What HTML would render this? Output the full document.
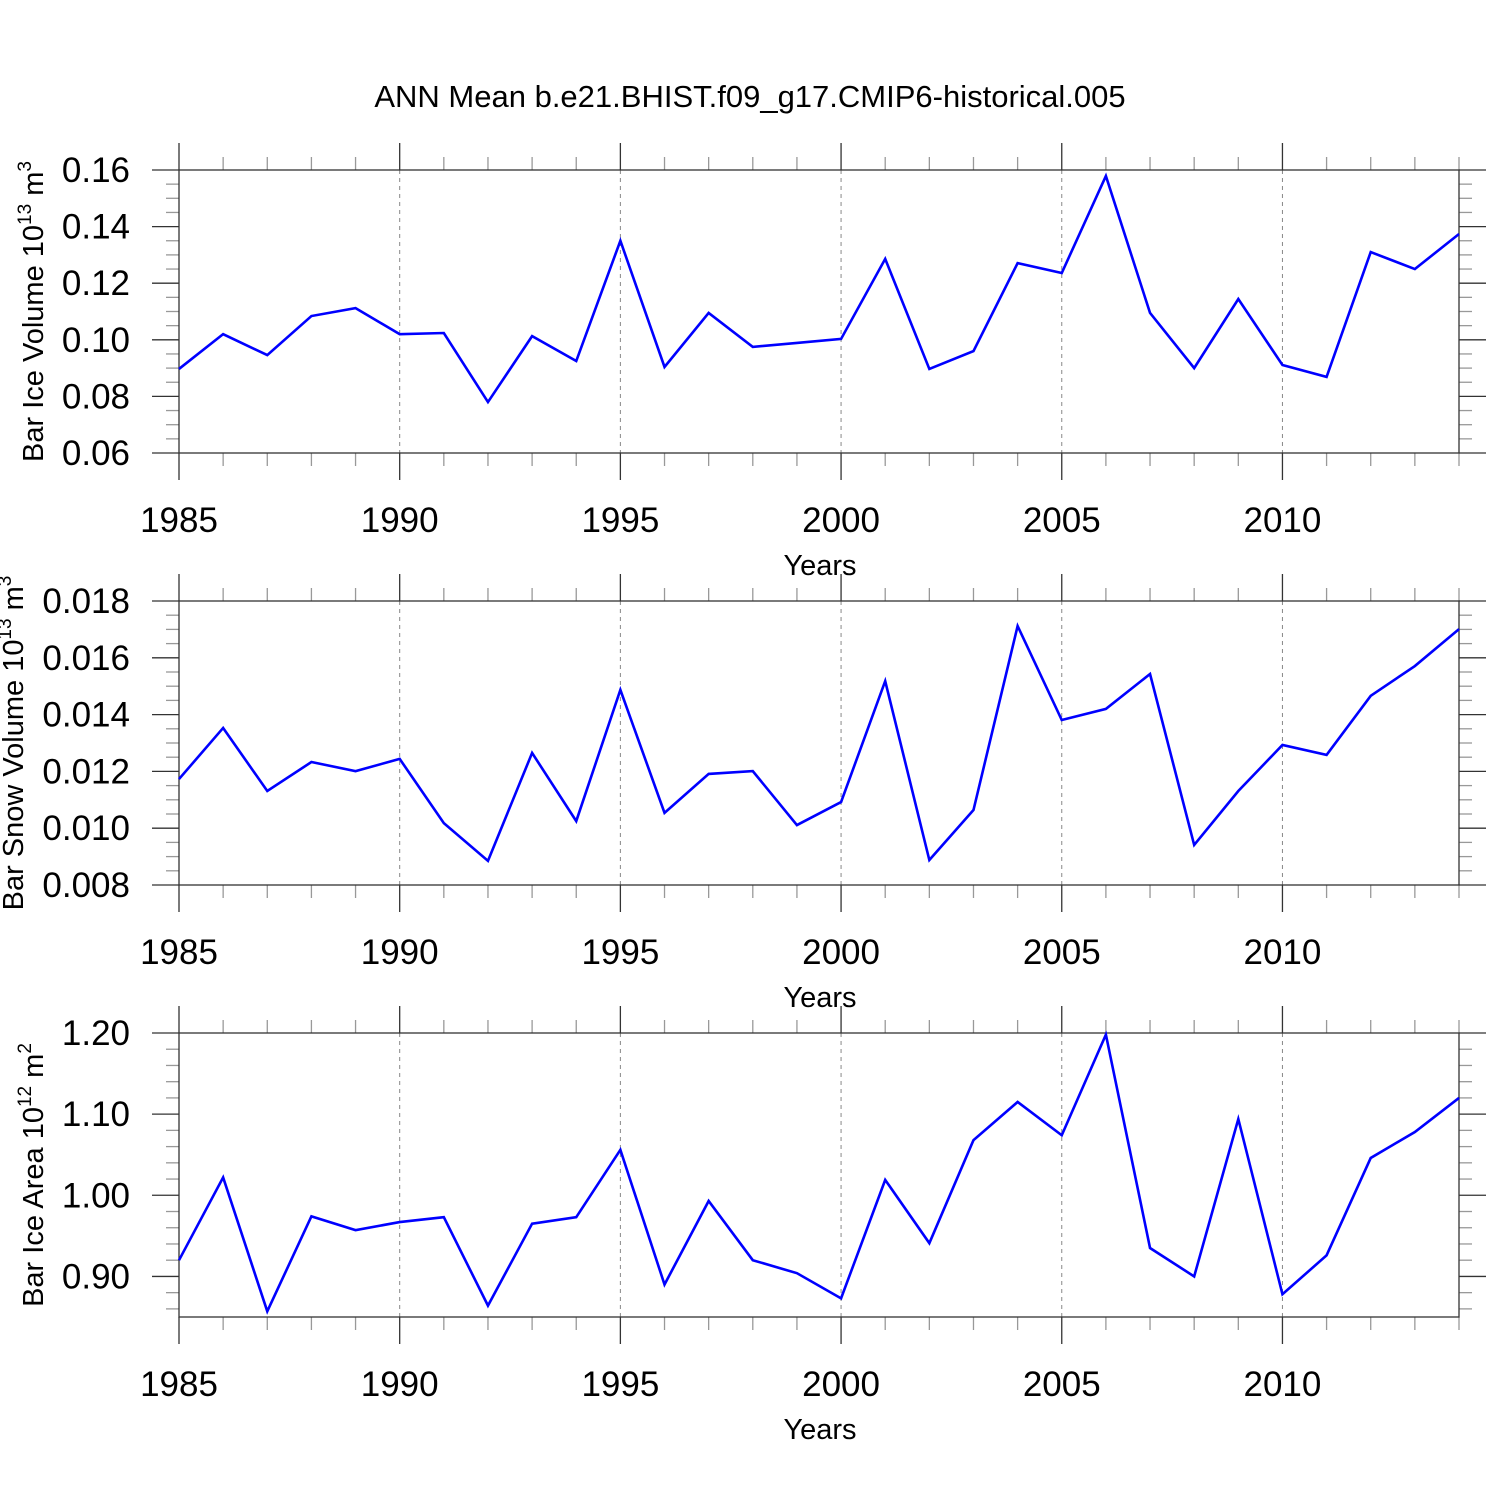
<!DOCTYPE html>
<html><head><meta charset="utf-8"><style>
html,body{margin:0;padding:0;background:#fff}
svg{display:block;font-family:"Liberation Sans",sans-serif}
</style></head><body>
<svg id="chart" width="1500" height="1500" viewBox="0 0 1500 1500" xmlns="http://www.w3.org/2000/svg">
<text x="750" y="107" font-size="31" text-anchor="middle">ANN Mean b.e21.BHIST.f09_g17.CMIP6-historical.005</text>
</svg>
<script>
const years = [1985,1986,1987,1988,1989,1990,1991,1992,1993,1994,1995,1996,1997,1998,1999,2000,2001,2002,2003,2004,2005,2006,2007,2008,2009,2010,2011,2012,2013,2014];
const iceVolume = [0.0897,0.102,0.0946,0.1084,0.1112,0.102,0.1024,0.078,0.1013,0.0925,0.135,0.0904,0.1095,0.0975,0.0989,0.1003,0.1286,0.0897,0.096,0.1271,0.1236,0.1579,0.1095,0.09,0.1144,0.0911,0.0869,0.131,0.125,0.1374];
const snowVolume = [0.01173,0.01353,0.01131,0.01233,0.01201,0.01244,0.01018,0.00885,0.01265,0.01025,0.01487,0.01054,0.01191,0.01201,0.01011,0.01092,0.01518,0.00888,0.01064,0.01712,0.01381,0.0142,0.01543,0.00941,0.01131,0.01293,0.01258,0.01466,0.01571,0.01701];
const iceArea = [0.920,1.022,0.857,0.974,0.957,0.967,0.973,0.864,0.965,0.973,1.056,0.890,0.993,0.920,0.904,0.873,1.019,0.941,1.068,1.115,1.074,1.198,0.935,0.900,1.094,0.878,0.926,1.046,1.078,1.120];
const xTickLabels = ["1985","1990","1995","2000","2005","2010"];
const ticks1 = ["0.06","0.08","0.10","0.12","0.14","0.16"];
const ticks2 = ["0.008","0.010","0.012","0.014","0.016","0.018"];
const ticks3 = ["0.90","1.00","1.10","1.20"];

const NS="http://www.w3.org/2000/svg";
const svg=document.getElementById('chart');
const X0=179,X1=1459;
const xs=y=>X0+(y-1985)/(2014-1985)*(X1-X0);
function mk(tag,attrs,parent){const e=document.createElementNS(NS,tag);for(const k in attrs)e.setAttribute(k,attrs[k]);(parent||svg).appendChild(e);return e;}

const panels=[
 {name:'ice-volume',top:170,bot:453,ymin:0.06,ymax:0.16,minor:0.005,ticks:ticks1,data:iceVolume,title:'Bar Ice Volume 10',sup:'13',unit:' m',usup:'3',tx:43},
 {name:'snow-volume',top:601,bot:885,ymin:0.008,ymax:0.018,minor:0.0005,ticks:ticks2,data:snowVolume,title:'Bar Snow Volume 10',sup:'13',unit:' m',usup:'3',tx:23},
 {name:'ice-area',top:1033,bot:1317,ymin:0.85,ymax:1.20,minor:0.02,ticks:ticks3,data:iceArea,title:'Bar Ice Area 10',sup:'12',unit:' m',usup:'2',tx:43}
];

panels.forEach(p=>{
 const g=mk('g',{});
 
 
 const ys=v=>p.bot-(v-p.ymin)/(p.ymax-p.ymin)*(p.bot-p.top);
 for(let y=1990;y<=2010;y+=5){
  const l=mk('line',{x1:xs(y),x2:xs(y),y1:p.top,y2:p.bot,stroke:'#888','stroke-width':1,'stroke-dasharray':'4,4'},g);
  
  
 }
 for(let y=1985;y<=2014;y++){
  const maj=(y%5===0);const L=maj?27:13;const c=maj?'#333':'#999';
  mk('line',{x1:xs(y),x2:xs(y),y1:p.top-L,y2:p.top,stroke:c,'stroke-width':1.3},g);
  mk('line',{x1:xs(y),x2:xs(y),y1:p.bot,y2:p.bot+L,stroke:c,'stroke-width':1.3},g);
 }
 const k0=Math.ceil(p.ymin/p.minor-1e-6),k1=Math.floor(p.ymax/p.minor+1e-6);
 for(let k=k0;k<=k1;k++){
  const v=k*p.minor;const yy=ys(v);
  const isMaj=p.ticks.some(t=>Math.abs(parseFloat(t)-v)<p.minor/10);
  const L=isMaj?27:13;const c=isMaj?'#333':'#999';
  mk('line',{x1:X0-L,x2:X0,y1:yy,y2:yy,stroke:c,'stroke-width':1.3},g);
  mk('line',{x1:X1,x2:X1+L,y1:yy,y2:yy,stroke:c,'stroke-width':1.3},g);
 }
 const fr=mk('rect',{x:X0,y:p.top,width:X1-X0,height:p.bot-p.top,fill:'none',stroke:'#333','stroke-width':1.3},g);
 
 
 p.ticks.forEach(t=>{
  const tx=mk('text',{x:130,y:ys(parseFloat(t))+12,'font-size':35,'text-anchor':'end'},g);
  tx.textContent=t;
  
  
 });
 xTickLabels.forEach(t=>{
  const tx=mk('text',{x:xs(+t),y:p.bot+79,'font-size':35,'text-anchor':'middle'},g);
  tx.textContent=t;
  
  
 });
 const xt=mk('text',{x:820,y:p.bot+122,'font-size':29,'text-anchor':'middle'},g);
 xt.textContent='Years';
 
 
 const cy=(p.top+p.bot)/2;
 const yt=mk('text',{x:0,y:0,'font-size':29,'text-anchor':'middle',transform:`translate(${p.tx},${cy}) rotate(-90)`},g);
 
 
 const s1=mk('tspan',{},yt);s1.textContent=p.title;
 const s2=mk('tspan',{'font-size':19,dy:-12},yt);s2.textContent=p.sup;
 const s3=mk('tspan',{dy:12},yt);s3.textContent=p.unit;
 const s4=mk('tspan',{'font-size':19,dy:-12},yt);s4.textContent=p.usup;
 const pts=years.map((y,i)=>xs(y)+','+ys(p.data[i])).join(' ');
 const pl=mk('polyline',{points:pts,fill:'none',stroke:'#0000ff','stroke-width':2.6,'stroke-linejoin':'miter'},g);
 
 
});
</script>
</body></html>
